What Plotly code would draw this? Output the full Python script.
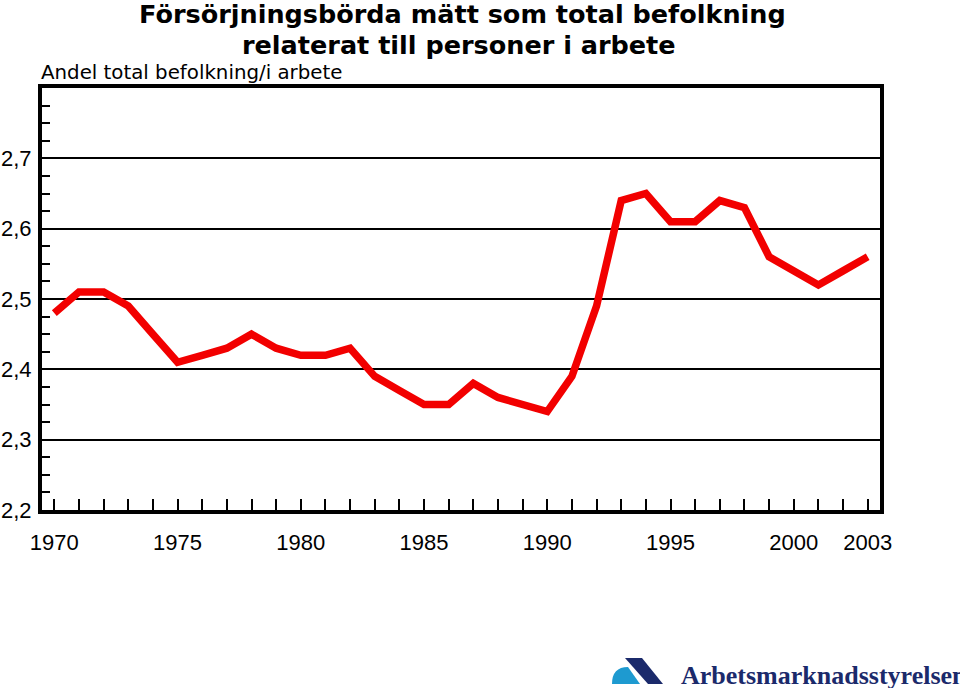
import plotly.graph_objects as go

years = list(range(1970, 2004))
values = [2.48, 2.51, 2.51, 2.49, 2.45, 2.41, 2.42, 2.43, 2.45, 2.43,
          2.42, 2.42, 2.43, 2.39, 2.37, 2.35, 2.35, 2.38, 2.36, 2.35,
          2.34, 2.39, 2.49, 2.64, 2.65, 2.61, 2.61, 2.64, 2.63, 2.56,
          2.54, 2.52, 2.54, 2.56]
x_labels = {1970: "1970", 1975: "1975", 1980: "1980", 1985: "1985",
            1990: "1990", 1995: "1995", 2000: "2000", 2003: "2003"}
y_ticks = [2.2, 2.3, 2.4, 2.5, 2.6, 2.7]

title1 = "Försörjningsbörda mätt som total befolkning"
title2 = "relaterat till personer i arbete"
subtitle = "Andel total befolkning/i arbete"
logo_text = "Arbetsmarknadsstyrelsen"

W, H = 960, 688
L, T = 42, 88
R = W - 880
B = H - 510
pw, ph = W - L - R, H - T - B

def px(x):
    return (x - L) / pw

def py(y):
    return (H - B - y) / ph

fig = go.Figure()
fig.add_trace(go.Scatter(x=years, y=values, mode="lines",
                         line=dict(color="#f20000", width=7.5),
                         hoverinfo="x+y", showlegend=False))

sans = "Liberation Sans, Arial, sans-serif"
wide = "DejaVu Sans, Verdana, sans-serif"
fig.update_layout(
    width=W, height=H,
    margin=dict(l=L, r=R, t=T, b=B, autoexpand=False),
    paper_bgcolor="white", plot_bgcolor="white",
    separators=", ",
    font=dict(family=sans, color="black", size=22),
)
fig.update_xaxes(
    range=[1969.5, 2003.5],
    tickvals=years,
    ticktext=[x_labels.get(y, "") for y in years],
    ticks="inside", ticklen=11, tickwidth=2, tickcolor="black",
    showline=True, linewidth=4, linecolor="black", mirror=True,
    showgrid=False, zeroline=False, automargin=False,
    tickfont=dict(size=22, family=sans),
    ticklabelstandoff=10,
)
fig.update_yaxes(
    range=[2.2, 2.8],
    tickvals=y_ticks, tickformat=".1f",
    ticks="inside", ticklen=8, tickwidth=2, tickcolor="black",
    minor=dict(dtick=0.025, tick0=2.2, ticks="inside", ticklen=8,
               tickwidth=2, tickcolor="black", showgrid=False),
    showline=True, linewidth=4, linecolor="black", mirror=True,
    showgrid=True, gridcolor="black", gridwidth=2,
    zeroline=False, automargin=False,
    tickfont=dict(size=22, family=sans),
    ticklabelstandoff=2,
)

fig.add_annotation(text="<b>" + title1 + "</b>", xref="paper", yref="paper",
                   x=px(462), y=py(14), xanchor="center", yanchor="middle",
                   showarrow=False, font=dict(family=wide, size=25.5))
fig.add_annotation(text="<b>" + title2 + "</b>", xref="paper", yref="paper",
                   x=px(459), y=py(45), xanchor="center", yanchor="middle",
                   showarrow=False, font=dict(family=wide, size=25.5))
fig.add_annotation(text=subtitle, xref="paper", yref="paper",
                   x=px(39), y=py(72), xanchor="left", yanchor="middle",
                   showarrow=False, font=dict(family=wide, size=19.8))

# logo (approximation)
fig.add_shape(type="path", xref="paper", yref="paper",
              path=f"M {px(612)} {py(684)} Q {px(612)} {py(667)} {px(628)} {py(667)} L {px(640)} {py(684)} Z",
              fillcolor="#1e9ad0", line=dict(width=0), layer="above")
fig.add_shape(type="path", xref="paper", yref="paper",
              path=f"M {px(625)} {py(658)} L {px(642)} {py(658)} L {px(663)} {py(684)} L {px(648)} {py(684)} Z",
              fillcolor="#1b2a6b", line=dict(width=0), layer="above")
fig.add_annotation(text="<b>" + logo_text + "</b>", xref="paper", yref="paper",
                   x=px(679), y=py(692), xanchor="left", yanchor="bottom",
                   showarrow=False,
                   font=dict(family="Liberation Serif, Times New Roman, serif",
                             size=26, color="#1b2a6b"))

fig.write_html("out.html",
               config={"displayModeBar": False},
               post_script="document.body.style.margin='0';document.body.style.overflow='hidden';")
